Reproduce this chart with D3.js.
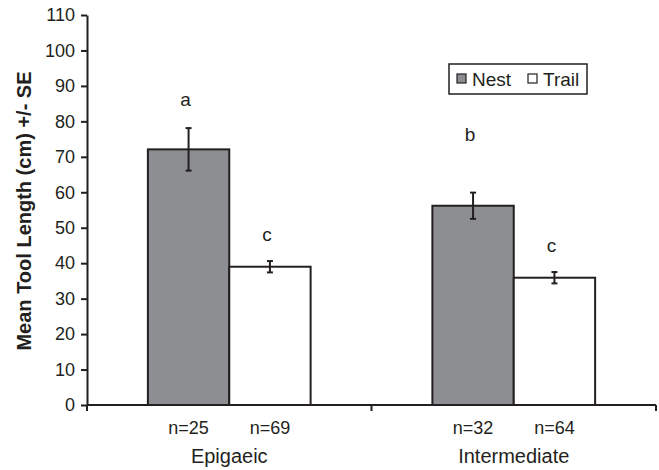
<!DOCTYPE html>
<html>
<head>
<meta charset="utf-8">
<script src="https://cdn.jsdelivr.net/npm/d3@7"></script>
<style>
  body { margin: 0; background: #fff; }
  svg { font-family: Arial, "Liberation Sans", sans-serif; }
  .axis path, .axis line { stroke: #231f20; stroke-width: 2px; }
  .axis text { font-size: 18px; fill: #231f20; }
</style>
</head>
<body>
<svg width="659" height="470"></svg>
<script>
// categories and series
var categories = ["Epigaeic", "Intermediate"];
var series = ["Nest", "Trail"];
var means = [[72.1, 39.0], [56.2, 35.9]];
var se = [[6.0, 1.6], [3.7, 1.6]];
var sampleSizes = [["n=25", "n=69"], ["n=32", "n=64"]];
var letters = [["a", "c"], ["b", "c"]];
var letterAt = [[84.3, 46.3], [74.4, 43.2]];   // where the letters sit, in y units
var yTicks = [0, 10, 20, 30, 40, 50, 60, 70, 80, 90, 100, 110];
var colors = ["#8d8e91", "#ffffff"];

var svg = d3.select("svg"),
    margin = {top: 15, right: 3, bottom: 65, left: 87},
    width = svg.attr("width") - margin.left - margin.right,
    height = svg.attr("height") - margin.top - margin.bottom,
    g = svg.append("g").attr("transform", "translate(" + margin.left + "," + margin.top + ")");

var x0 = d3.scaleBand().domain(categories).range([0, width]).paddingInner(0).paddingOuter(0),
    x1 = d3.scaleBand().domain(series).range([0, x0.bandwidth() * 0.572]),
    y = d3.scaleLinear().domain([0, 110]).range([height, 0]);

var groupOffset = (x0.bandwidth() - x1.range()[1]) / 2;

// bars for each category
var group = g.selectAll(".group")
  .data(categories)
  .enter().append("g")
    .attr("class", "group")
    .attr("transform", function(d) { return "translate(" + (x0(d) + groupOffset) + ",0)"; });

var cells = group.selectAll(".cell")
  .data(function(d, i) {
    return series.map(function(s, j) {
      return {s: s, j: j, mean: means[i][j], se: se[i][j], n: sampleSizes[i][j], letter: letters[i][j], la: letterAt[i][j]};
    });
  })
  .enter().append("g").attr("class", "cell");

cells.append("rect")
    .attr("x", function(d) { return x1(d.s); })
    .attr("y", function(d) { return y(d.mean); })
    .attr("width", x1.bandwidth())
    .attr("height", function(d) { return height - y(d.mean); })
    .attr("fill", function(d) { return colors[d.j]; })
    .attr("stroke", "#231f20")
    .attr("stroke-width", 2);

// error bars
var cx = function(d) { return x1(d.s) + x1.bandwidth() / 2; };
cells.append("line")
    .attr("x1", cx).attr("x2", cx)
    .attr("y1", function(d) { return y(d.mean + d.se); })
    .attr("y2", function(d) { return y(d.mean - d.se); })
    .attr("stroke", "#231f20").attr("stroke-width", 2);
[1, -1].forEach(function(sgn) {
  cells.append("line")
      .attr("x1", function(d) { return cx(d) - 3; })
      .attr("x2", function(d) { return cx(d) + 3; })
      .attr("y1", function(d) { return y(d.mean + sgn * d.se); })
      .attr("y2", function(d) { return y(d.mean + sgn * d.se); })
      .attr("stroke", "#231f20").attr("stroke-width", 2);
});

// significance letters
cells.append("text")
    .attr("x", function(d) { return cx(d) - 3; })
    .attr("y", function(d) { return y(d.la); })
    .attr("text-anchor", "middle")
    .style("font-size", "19px")
    .attr("fill", "#231f20")
    .text(function(d) { return d.letter; });

// n labels under the axis
cells.append("text")
    .attr("x", cx)
    .attr("y", height + 29)
    .attr("text-anchor", "middle")
    .style("font-size", "18px")
    .attr("fill", "#231f20")
    .text(function(d) { return d.n; });

// y axis
g.append("g")
    .attr("class", "axis axis--y")
    .call(d3.axisLeft(y).tickValues(yTicks).tickSize(6).tickPadding(6).tickSizeOuter(0));

// x axis, ticks at the band edges
var xEdges = [0, x0.bandwidth(), width];
var xa = g.append("g").attr("class", "axis axis--x");
xa.append("line")
    .attr("x1", 0).attr("x2", width)
    .attr("y1", height).attr("y2", height);
xa.selectAll(".edge")
  .data(xEdges)
  .enter().append("line")
    .attr("class", "edge")
    .attr("x1", function(d) { return d; }).attr("x2", function(d) { return d; })
    .attr("y1", height).attr("y2", height + 6);
xa.selectAll(".cat")
  .data(categories)
  .enter().append("text")
    .attr("class", "cat")
    .attr("x", function(d) { return x0(d) + x0.bandwidth() / 2; })
    .attr("y", height + 58)
    .attr("text-anchor", "middle")
    .style("font-size", "20px")
    .text(function(d) { return d; });

// y axis title
svg.append("text")
    .attr("transform", "translate(31,211) rotate(-90)")
    .attr("text-anchor", "middle")
    .style("font-size", "20px")
    .style("font-weight", "bold")
    .attr("fill", "#231f20")
    .text("Mean Tool Length (cm) +/- SE");

// legend
var legend = svg.append("g").attr("transform", "translate(449,64)");
legend.append("rect")
    .attr("width", 138).attr("height", 30)
    .attr("fill", "#fff").attr("stroke", "#231f20").attr("stroke-width", 1.5);
var item = legend.selectAll(".item")
  .data(series)
  .enter().append("g")
    .attr("class", "item")
    .attr("transform", function(d, i) { return "translate(" + (8 + i * 71) + ",0)"; });
item.append("rect")
    .attr("y", 10).attr("width", 9).attr("height", 9)
    .attr("fill", function(d, i) { return colors[i]; })
    .attr("stroke", "#231f20").attr("stroke-width", 1.2);
item.append("text")
    .attr("x", 15).attr("y", 22)
    .style("font-size", "19px")
    .attr("fill", "#231f20")
    .text(function(d) { return d; });
</script>
</body>
</html>
